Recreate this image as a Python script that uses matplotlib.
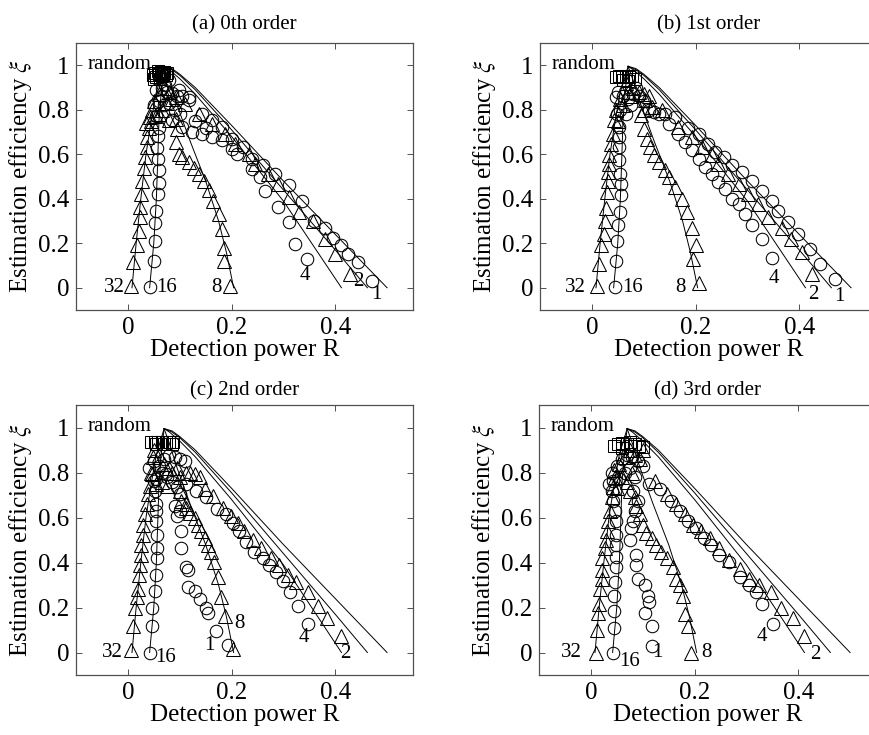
"""
Detection power vs estimation efficiency, four approximation orders.
"""
import matplotlib
matplotlib.use("Agg")
import matplotlib.pyplot as plt

plt.rcParams["font.family"] = ["Liberation Serif", "DejaVu Serif"]
plt.rcParams["mathtext.fontset"] = "stix"

# theoretical curves (same in every panel), keyed by label
curve_labels = [1, 2, 4, 8, 16, 32]
curve_R = [
    [0.07, 0.085, 0.10, 0.13, 0.20, 0.30, 0.40, 0.50],
    [0.07, 0.085, 0.10, 0.13, 0.20, 0.30, 0.40, 0.462],
    [0.07, 0.08, 0.10, 0.13, 0.20, 0.30, 0.412],
    [0.07, 0.08, 0.095, 0.12, 0.15, 0.175, 0.19, 0.204],
    [0.07, 0.065, 0.06, 0.058, 0.055, 0.05, 0.042],
    [0.07, 0.055, 0.045, 0.035, 0.025, 0.016, 0.008],
]
curve_xi = [
    [0.995, 0.985, 0.96, 0.90, 0.73, 0.48, 0.24, 0.0],
    [0.995, 0.98, 0.955, 0.89, 0.71, 0.44, 0.17, 0.0],
    [0.995, 0.98, 0.94, 0.87, 0.68, 0.39, 0.0],
    [0.995, 0.93, 0.82, 0.66, 0.48, 0.30, 0.16, 0.0],
    [0.995, 0.90, 0.75, 0.60, 0.40, 0.20, 0.0],
    [0.995, 0.88, 0.75, 0.60, 0.40, 0.20, 0.0],
]

panel_titles = ["(a) 0th order", "(b) 1st order", "(c) 2nd order", "(d) 3rd order"]

# ---- (a) 0th order: circles = 1, 4, 16 ; triangles = 2, 8, 32 ----
a_circles = [
    (0.47, 0.03), (0.444, 0.114), (0.425, 0.15), (0.412, 0.19), (0.395, 0.225), (0.38, 0.27),
    (0.36, 0.30), (0.335, 0.39), (0.31, 0.46), (0.284, 0.51), (0.26, 0.55), (0.24, 0.58),
    (0.223, 0.632), (0.20, 0.67), (0.181, 0.722), (0.162, 0.752), (0.143, 0.782),
    (0.117, 0.842), (0.098, 0.887), (0.079, 0.932),
    (0.345, 0.13), (0.322, 0.197), (0.31, 0.294), (0.29, 0.362), (0.265, 0.437), (0.255, 0.497),
    (0.239, 0.535), (0.21, 0.602), (0.2, 0.625), (0.181, 0.662), (0.162, 0.677), (0.143, 0.692),
    (0.124, 0.70), (0.104, 0.722), (0.085, 0.752),
    (0.042, 0.005), (0.05, 0.12), (0.052, 0.21), (0.053, 0.29), (0.054, 0.347), (0.058, 0.42),
    (0.06, 0.47), (0.06, 0.53), (0.058, 0.58), (0.056, 0.63), (0.058, 0.68), (0.06, 0.72),
    (0.054, 0.77),
    (0.054, 0.887), (0.065, 0.9), (0.075, 0.88), (0.085, 0.874), (0.095, 0.86), (0.105, 0.86),
    (0.117, 0.856), (0.06, 0.84), (0.07, 0.82), (0.08, 0.83), (0.05, 0.82), (0.09, 0.8),
    (0.1, 0.78), (0.13, 0.75), (0.15, 0.72), (0.065, 0.86), (0.072, 0.91),
]
a_triangles = [
    (0.428, 0.06), (0.4, 0.15), (0.38, 0.22), (0.357, 0.30), (0.33, 0.34), (0.31, 0.407),
    (0.29, 0.467), (0.271, 0.51), (0.246, 0.557), (0.233, 0.6), (0.207, 0.647), (0.188, 0.692),
    (0.162, 0.737), (0.137, 0.78), (0.111, 0.827), (0.092, 0.857),
    (0.197, 0.01), (0.185, 0.12), (0.185, 0.18), (0.181, 0.264), (0.175, 0.33), (0.165, 0.39),
    (0.156, 0.44), (0.146, 0.48), (0.137, 0.51), (0.127, 0.54), (0.117, 0.565), (0.104, 0.587),
    (0.098, 0.60), (0.092, 0.655), (0.095, 0.715), (0.079, 0.752), (0.06, 0.78),
    (0.007, 0.01), (0.010, 0.114), (0.018, 0.19), (0.021, 0.257), (0.023, 0.317), (0.023, 0.362),
    (0.026, 0.42), (0.028, 0.48), (0.031, 0.54), (0.034, 0.587), (0.037, 0.632), (0.037, 0.677),
    (0.04, 0.72), (0.042, 0.767), (0.047, 0.797), (0.05, 0.84),
    (0.035, 0.74), (0.045, 0.75), (0.055, 0.77), (0.065, 0.8), (0.075, 0.83), (0.085, 0.85),
    (0.06, 0.87), (0.07, 0.9), (0.08, 0.88), (0.092, 0.76),
]
a_squares = [
    (0.048, 0.955), (0.053, 0.965), (0.058, 0.975), (0.063, 0.97), (0.068, 0.96),
    (0.073, 0.955), (0.055, 0.945), (0.065, 0.95), (0.06, 0.96), (0.07, 0.97),
    (0.05, 0.94), (0.062, 0.94), (0.075, 0.965),
]

# ---- (b) 1st order ----
b_circles = [
    (0.469, 0.04), (0.44, 0.107), (0.42, 0.174), (0.398, 0.242), (0.379, 0.294), (0.36, 0.347),
    (0.347, 0.392), (0.328, 0.437), (0.308, 0.482), (0.289, 0.52), (0.27, 0.55), (0.254, 0.587),
    (0.238, 0.61), (0.225, 0.647), (0.206, 0.692), (0.185, 0.72), (0.161, 0.767), (0.142, 0.782),
    (0.347, 0.134), (0.328, 0.22), (0.308, 0.28), (0.295, 0.332), (0.283, 0.377), (0.27, 0.40),
    (0.257, 0.444), (0.244, 0.474), (0.231, 0.512), (0.219, 0.542), (0.206, 0.58), (0.193, 0.617),
    (0.18, 0.655), (0.167, 0.692), (0.148, 0.737), (0.129, 0.782),
    (0.044, 0.005), (0.047, 0.12), (0.049, 0.21), (0.051, 0.28), (0.055, 0.34), (0.057, 0.415),
    (0.057, 0.467), (0.055, 0.512), (0.052, 0.572), (0.052, 0.632), (0.052, 0.677),
    (0.052, 0.722), (0.049, 0.782), (0.046, 0.857),
    (0.05, 0.88), (0.06, 0.86), (0.07, 0.85), (0.08, 0.87), (0.09, 0.86), (0.1, 0.84),
    (0.055, 0.8), (0.065, 0.78), (0.075, 0.82), (0.11, 0.8), (0.12, 0.79), (0.085, 0.9),
]
b_triangles = [
    (0.424, 0.06), (0.405, 0.16), (0.385, 0.22), (0.366, 0.27), (0.34, 0.317), (0.321, 0.377),
    (0.302, 0.422), (0.283, 0.467), (0.263, 0.512), (0.244, 0.557), (0.231, 0.595),
    (0.212, 0.632), (0.193, 0.677), (0.167, 0.722), (0.135, 0.797), (0.116, 0.812),
    (0.206, 0.02), (0.196, 0.13), (0.2, 0.19), (0.193, 0.27), (0.184, 0.34), (0.174, 0.40),
    (0.161, 0.452), (0.148, 0.497), (0.142, 0.527), (0.129, 0.565), (0.119, 0.595),
    (0.113, 0.632), (0.106, 0.67), (0.1, 0.715), (0.094, 0.775), (0.1, 0.797), (0.103, 0.842),
    (0.01, 0.01), (0.013, 0.107), (0.017, 0.19), (0.023, 0.24), (0.025, 0.30), (0.028, 0.36),
    (0.029, 0.43), (0.031, 0.48), (0.031, 0.52), (0.033, 0.557), (0.034, 0.595), (0.036, 0.647),
    (0.04, 0.69), (0.042, 0.752), (0.046, 0.797),
    (0.05, 0.75), (0.06, 0.82), (0.07, 0.88), (0.08, 0.9), (0.09, 0.88), (0.065, 0.92),
    (0.055, 0.85), (0.075, 0.86), (0.1, 0.87), (0.11, 0.86),
]
b_squares = [
    (0.047, 0.945), (0.053, 0.95), (0.059, 0.945), (0.065, 0.95), (0.071, 0.945),
    (0.077, 0.95), (0.083, 0.94), (0.06, 0.935), (0.07, 0.93),
]

# ---- (c) 2nd order ----
c_circles = [
    (0.193, 0.035), (0.17, 0.095), (0.154, 0.177), (0.151, 0.2), (0.14, 0.24), (0.129, 0.275),
    (0.116, 0.29), (0.116, 0.365), (0.113, 0.38), (0.103, 0.463), (0.103, 0.538), (0.094, 0.606),
    (0.1, 0.629), (0.09, 0.651), (0.1, 0.704), (0.094, 0.734), (0.074, 0.794),
    (0.347, 0.125), (0.328, 0.207), (0.312, 0.268), (0.299, 0.32), (0.286, 0.358), (0.273, 0.388),
    (0.26, 0.418), (0.244, 0.448), (0.228, 0.493), (0.215, 0.538), (0.203, 0.576), (0.19, 0.614),
    (0.171, 0.636), (0.151, 0.689), (0.132, 0.719), (0.113, 0.749),
    (0.042, 0.0), (0.046, 0.117), (0.047, 0.2), (0.052, 0.275), (0.055, 0.343), (0.056, 0.418),
    (0.056, 0.463), (0.056, 0.523), (0.055, 0.583), (0.054, 0.629), (0.054, 0.659),
    (0.052, 0.719), (0.05, 0.764),
    (0.04, 0.82), (0.05, 0.85), (0.06, 0.83), (0.07, 0.86), (0.08, 0.88), (0.09, 0.87),
    (0.1, 0.86), (0.11, 0.85), (0.065, 0.8), (0.075, 0.78), (0.085, 0.76), (0.055, 0.77),
]
c_triangles = [
    (0.411, 0.072), (0.385, 0.155), (0.366, 0.208), (0.347, 0.268), (0.324, 0.313),
    (0.308, 0.343), (0.292, 0.388), (0.276, 0.418), (0.257, 0.463), (0.241, 0.501),
    (0.225, 0.538), (0.212, 0.576), (0.199, 0.606), (0.183, 0.644), (0.164, 0.696),
    (0.148, 0.726), (0.129, 0.794), (0.113, 0.8),
    (0.203, 0.015), (0.187, 0.162), (0.18, 0.245), (0.174, 0.335), (0.167, 0.403),
    (0.161, 0.448), (0.154, 0.478), (0.148, 0.508), (0.142, 0.538), (0.135, 0.568),
    (0.129, 0.598), (0.119, 0.621), (0.113, 0.644), (0.113, 0.659), (0.103, 0.674), (0.1, 0.719),
    (0.007, 0.01), (0.01, 0.12), (0.013, 0.2), (0.017, 0.245), (0.02, 0.283), (0.022, 0.343),
    (0.024, 0.39), (0.025, 0.433), (0.026, 0.478), (0.029, 0.523), (0.029, 0.568),
    (0.033, 0.614), (0.036, 0.659), (0.039, 0.704), (0.042, 0.741), (0.046, 0.794),
    (0.049, 0.869),
    (0.05, 0.9), (0.06, 0.88), (0.07, 0.84), (0.08, 0.82), (0.045, 0.8), (0.055, 0.75),
    (0.065, 0.76), (0.075, 0.74), (0.085, 0.8), (0.095, 0.82), (0.1, 0.78), (0.12, 0.8),
    (0.14, 0.78),
]
c_squares = [
    (0.045, 0.935), (0.052, 0.935), (0.059, 0.935), (0.066, 0.935), (0.073, 0.935),
    (0.08, 0.935), (0.087, 0.935), (0.055, 0.925), (0.07, 0.925), (0.085, 0.925),
]

# ---- (d) 3rd order ----
d_circles = [
    (0.117, 0.03), (0.117, 0.117), (0.104, 0.177), (0.113, 0.223), (0.11, 0.253), (0.104, 0.298),
    (0.091, 0.328), (0.088, 0.388), (0.088, 0.433), (0.075, 0.5), (0.078, 0.553), (0.081, 0.583),
    (0.085, 0.629), (0.091, 0.674), (0.081, 0.719),
    (0.351, 0.125), (0.331, 0.215), (0.319, 0.268), (0.306, 0.298), (0.287, 0.335),
    (0.267, 0.403), (0.248, 0.433), (0.232, 0.478), (0.219, 0.508), (0.203, 0.553),
    (0.187, 0.583), (0.171, 0.629), (0.155, 0.674), (0.133, 0.726), (0.113, 0.749),
    (0.043, 0.0), (0.045, 0.11), (0.045, 0.185), (0.045, 0.253), (0.046, 0.313), (0.048, 0.38),
    (0.049, 0.425), (0.049, 0.478), (0.049, 0.523), (0.049, 0.583), (0.046, 0.629),
    (0.043, 0.674), (0.04, 0.719), (0.043, 0.764),
    (0.04, 0.8), (0.05, 0.83), (0.06, 0.86), (0.07, 0.88), (0.08, 0.87), (0.09, 0.85),
    (0.1, 0.83), (0.055, 0.77), (0.065, 0.8), (0.075, 0.82), (0.085, 0.78), (0.035, 0.75),
]
d_triangles = [
    (0.412, 0.072), (0.389, 0.155), (0.367, 0.2), (0.347, 0.268), (0.325, 0.298),
    (0.306, 0.328), (0.287, 0.373), (0.267, 0.41), (0.248, 0.463), (0.229, 0.508),
    (0.213, 0.538), (0.197, 0.568), (0.181, 0.614), (0.165, 0.659), (0.146, 0.704),
    (0.123, 0.764),
    (0.194, 0.0), (0.187, 0.117), (0.181, 0.17), (0.178, 0.253), (0.171, 0.298), (0.165, 0.328),
    (0.158, 0.38), (0.146, 0.418), (0.136, 0.448), (0.126, 0.478), (0.117, 0.508),
    (0.107, 0.531), (0.101, 0.568), (0.094, 0.614), (0.088, 0.651), (0.085, 0.689),
    (0.075, 0.719),
    (0.01, 0.0), (0.011, 0.102), (0.014, 0.177), (0.016, 0.215), (0.017, 0.283), (0.021, 0.328),
    (0.021, 0.365), (0.022, 0.418), (0.027, 0.463), (0.029, 0.5), (0.031, 0.538),
    (0.033, 0.583), (0.037, 0.629), (0.04, 0.689), (0.043, 0.734), (0.046, 0.779),
    (0.045, 0.81), (0.055, 0.84), (0.065, 0.87), (0.075, 0.9), (0.085, 0.88), (0.095, 0.86),
    (0.06, 0.78), (0.07, 0.76), (0.05, 0.73), (0.08, 0.8), (0.1, 0.9),
]
d_squares = [
    (0.045, 0.92), (0.053, 0.925), (0.061, 0.93), (0.069, 0.925), (0.077, 0.92),
    (0.085, 0.925), (0.093, 0.92), (0.1, 0.915), (0.06, 0.91), (0.075, 0.935),
]

# curve-number labels per panel: (text, R, xi, ha)
a_labels = [("32", -0.006, 0.0, "right"), ("16", 0.054, 0.0, "left"), ("8", 0.18, 0.0, "right"),
            ("4", 0.342, 0.055, "center"), ("2", 0.444, 0.03, "center"), ("1", 0.479, -0.03, "center")]
b_labels = [("32", -0.012, 0.0, "right"), ("16", 0.058, 0.0, "left"), ("8", 0.17, 0.0, "center"),
            ("4", 0.352, 0.04, "center"), ("2", 0.427, -0.03, "center"), ("1", 0.477, -0.04, "center")]
c_labels = [("32", -0.01, 0.0, "right"), ("16", 0.052, -0.02, "left"), ("1", 0.157, 0.03, "center"),
            ("8", 0.206, 0.13, "left"), ("4", 0.34, 0.065, "center"), ("2", 0.42, -0.005, "center")]
d_labels = [("32", -0.017, 0.0, "right"), ("16", 0.075, -0.04, "center"), ("1", 0.128, 0.0, "center"),
            ("8", 0.222, 0.0, "center"), ("4", 0.33, 0.07, "center"), ("2", 0.432, -0.01, "center")]

panel_circles = [a_circles, b_circles, c_circles, d_circles]
panel_triangles = [a_triangles, b_triangles, c_triangles, d_triangles]
panel_squares = [a_squares, b_squares, c_squares, d_squares]
panel_labels = [a_labels, b_labels, c_labels, d_labels]

W, H = 870, 735
# axes boxes in pixels: left, top, right, bottom (right panels run off the page)
boxes = [(76, 43, 413, 310), (540, 43, 877, 310), (76, 405, 413, 675), (539, 405, 876, 675)]

fig = plt.figure(figsize=(W / 100, H / 100), dpi=100)
box_color = "#505050"
mk = dict(linestyle="none", markerfacecolor="none", markeredgecolor="k", markeredgewidth=0.75)

for i, (l, t, r, b) in enumerate(boxes):
    ax = fig.add_axes([l / W, 1 - b / H, (r - l) / W, (b - t) / H])

    for R, xi in zip(curve_R, curve_xi):
        ax.plot(R, xi, color="k", linewidth=0.7)

    for pts, marker, size in [(panel_circles[i], "o", 9.0),
                              (panel_triangles[i], "^", 9.5),
                              (panel_squares[i], "s", 8.0)]:
        xs = [p[0] for p in pts]
        ys = [p[1] for p in pts]
        ax.plot(xs, ys, marker=marker, markersize=size, **mk)

    for text, R, xi, ha in panel_labels[i]:
        ax.text(R, xi, text, ha=ha, va="center", fontsize=15)
    ax.text(0.046, 0.985, "random", ha="right", va="baseline", fontsize=15)

    ax.set_xlim(-0.1, 0.55)
    ax.set_ylim(-0.1, 1.1)
    ax.set_xticks([0, 0.2, 0.4])
    ax.set_xticklabels(["0", "0.2", "0.4"])
    ax.set_yticks([0, 0.2, 0.4, 0.6, 0.8, 1.0])
    ax.set_yticklabels(["0", "0.2", "0.4", "0.6", "0.8", "1"])
    ax.tick_params(direction="in", length=4, width=0.7, top=True, right=True,
                   labelsize=18, colors=box_color, labelcolor="k", pad=5)
    for s in ax.spines.values():
        s.set_color(box_color)
        s.set_linewidth(0.9)

    ax.set_title(panel_titles[i], fontsize=15, pad=10 if i < 2 else 7)
    ax.set_xlabel("Detection power R", fontsize=18, labelpad=0)
    ax.set_ylabel("Estimation efficiency $\\xi$", fontsize=18, labelpad=3)

fig.savefig("out.png", dpi=100)
